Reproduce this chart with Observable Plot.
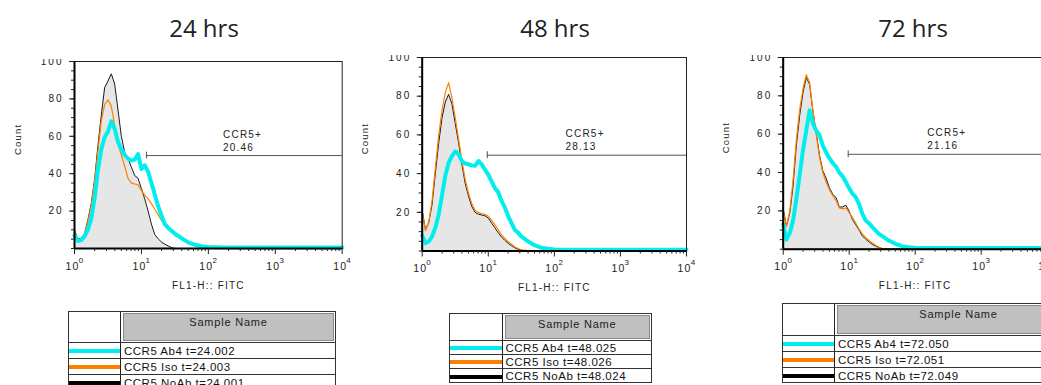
<!DOCTYPE html>
<html><head><meta charset="utf-8">
<script src="https://cdn.jsdelivr.net/npm/d3@7"></script>
<script src="https://cdn.jsdelivr.net/npm/@observablehq/plot@0.6"></script>
<style>
body{margin:0;background:#fff;}
#root{position:relative;width:1041px;height:385px;overflow:hidden;font-family:"Liberation Sans",Arial,sans-serif;}
.title{position:absolute;top:11px;font-family:"Open Sans",sans-serif;font-size:24px;color:#222;transform:translateX(-50%);white-space:nowrap;line-height:34px;}
.panel{position:absolute;}
.panel svg{overflow:hidden;background:transparent;}
.panel g[aria-label="y-axis tick label"] text{letter-spacing:2px;}
.tbl{position:absolute;border:1px solid #333;box-sizing:border-box;background:#fff;}
.tbl div{position:absolute;box-sizing:border-box;}
.hdr{background:#c0c0c0;border:1px solid #8a8a8a;text-align:center;font-size:11px;letter-spacing:0.8px;color:#222;line-height:17px;}
.rowtxt{font-size:11.5px;letter-spacing:0.5px;color:#111;white-space:nowrap;}
</style></head>
<body><div id="root"></div>
<script>
// ---- data ----
const titles = ["24 hrs", "48 hrs", "72 hrs"];
const fitc = [1, 1.12, 1.26, 1.41, 1.58, 1.78, 2, 2.24, 2.51, 2.82, 3.16, 3.55, 3.98, 4.47, 5.01, 5.62, 6.31, 7.08, 7.94, 8.91, 10, 11.2, 12.6, 14.1, 15.8, 17.8, 20, 22.4, 25.1, 28.2, 31.6, 39.8, 50.1, 63.1, 79.4, 100, 178, 316, 1000, 3160, 10000];
const noAb24 = [10, 5, 5.5, 7.8, 15, 24, 37, 55, 71, 86, 89.5, 93.4, 88, 74, 60, 51.5, 48, 43.5, 39, 37.6, 32, 26.5, 20, 13, 7.5, 5.2, 3.4, 2.3, 1.4, 0.5, 0, 0, 0, 0, 0, 0, 0, 0, 0, 0, 0];
const iso24 = [9, 4.5, 5, 7.5, 14, 23, 36, 52, 68, 77, 79.5, 76, 66, 56, 50, 44, 37.5, 35, 34.5, 34, 31, 28.5, 26.5, 24, 21, 18, 15, 12.5, 10.5, 8.5, 7, 5, 3, 1.8, 1, 0.5, 0.3, 0.3, 0.3, 0.3, 0.3];
const ab4_24 = [7, 4, 4.5, 6.5, 10, 16, 27, 42, 53, 59.5, 62.5, 68, 64, 57, 53, 50, 48, 47, 47.5, 50.5, 42.5, 44.5, 41, 35, 29, 22.5, 17.5, 13, 11, 9.5, 8, 5.5, 3.3, 2, 1.2, 0.8, 0.6, 0.6, 0.6, 0.6, 0.6];
const noAb48 = [21, 11, 15, 24, 40, 56, 69, 77, 81, 76, 66, 56, 45, 35, 28.5, 23, 20, 19, 18.6, 18.2, 17, 14.5, 12, 9.5, 7.3, 5.5, 4, 2.8, 1.7, 0.9, 0.4, 0, 0, 0, 0, 0, 0, 0, 0, 0, 0];
const iso48 = [20, 10.5, 15, 26, 43, 60, 73, 82, 87, 79, 69, 58, 47, 37, 30, 24.5, 21, 19.8, 19.3, 19, 18, 16, 13.5, 11, 8.5, 6.5, 4.8, 3.5, 2.2, 1.3, 0.6, 0.2, 0, 0, 0, 0, 0, 0, 0, 0, 0];
const ab4_48 = [8, 4, 5, 7.5, 12, 19, 29, 39, 45.5, 49, 51.5, 50, 46.5, 45.2, 44.8, 44.2, 44, 46.5, 44.8, 42, 39.5, 36, 32.5, 30.5, 26, 22.5, 18, 14.5, 11, 9.5, 7.5, 5, 3, 1.7, 1.2, 0.8, 0.6, 0.6, 0.6, 0.6, 0.6];
const noAb72 = [21, 12, 19, 33, 54, 70, 82, 89.5, 86, 72, 61, 49, 41, 37, 32, 28.7, 27, 22, 22, 23, 19.8, 15.5, 12.7, 10, 7, 5.2, 3.8, 2.5, 1.6, 0.8, 0.3, 0, 0, 0, 0, 0, 0, 0, 0, 0, 0];
const iso72 = [20, 12, 20, 36, 57, 73, 84, 91, 87, 72, 60, 48, 40, 35, 31, 28, 25.5, 21.5, 21, 21.5, 19, 16.5, 13.5, 10.5, 8, 6, 4.5, 3.2, 2, 1.1, 0.5, 0.2, 0, 0, 0, 0, 0, 0, 0, 0, 0];
const ab4_72 = [13, 5, 8.5, 15, 26, 39, 52, 62, 72.5, 65.5, 62, 59.5, 54, 50.5, 47.5, 45, 43, 40, 38, 35, 31.7, 29, 27, 23.5, 18.5, 15, 13.5, 11.5, 9.8, 8, 6.8, 4.5, 2.8, 1.6, 1, 0.7, 0.6, 0.6, 0.6, 0.6, 0.6];
const gateName = "CCR5+";
const gatePercent = ["20.46", "28.13", "21.16"];
const gateStart = [11.9, 9.66, 9.66];
const gateLevel = [49.7, 49.5, 49.5];
const decades = [1, 10, 100, 1000, 10000];
const decadeExp = ["0", "1", "2", "3", "4"];
const yMajor = [20, 40, 60, 80, 100];
const xLabel = "FL1-H:: FITC";
const yLabel = "Count";
const sampleHeader = "Sample Name";
const samples24 = ["CCR5 Ab4 t=24.002", "CCR5 Iso t=24.003", "CCR5 NoAb t=24.001"];
const samples48 = ["CCR5 Ab4 t=48.025", "CCR5 Iso t=48.026", "CCR5 NoAb t=48.024"];
const samples72 = ["CCR5 Ab4 t=72.050", "CCR5 Iso t=72.051", "CCR5 NoAb t=72.049"];
const sampleColors = ["#00eeee", "#ff8000", "#000000"];

// ---- layout ----
const panels = [
  {noab: noAb24, iso: iso24, ab4: ab4_24, samples: samples24, left: 0, top: 59, width: 358, height: 241, ml: 74, mr: 16.3, mb: 52, titleX: 204, labelX: 166,
   tbl: {left: 68, top: 311, width: 268, sw: 51, hh: 31, rh: 16}},
  {noab: noAb48, iso: iso48, ab4: ab4_48, samples: samples48, left: 360, top: 54.5, width: 340, height: 245.5, ml: 61.7, mr: 14, mb: 50, titleX: 555, labelX: 148,
   tbl: {left: 449, top: 312.5, width: 203, sw: 51.5, hh: 27.5, rh: 14.2}},
  {noab: noAb72, iso: iso72, ab4: ab4_72, samples: samples72, left: 710, top: 55.3, width: 345, height: 244.7, ml: 72.7, mr: 8.3, mb: 51, titleX: 913, labelX: 152,
   tbl: {left: 782, top: 302.5, width: 300, sw: 51, hh: 32, rh: 16.3}}
];

const root = document.getElementById("root");
const yMinor = d3.range(0, 101, 5);
const xMinor = [];
for (const d of decades.slice(0, 4)) for (let k = 2; k <= 9; k++) xMinor.push(d * k);

panels.forEach((p, pi) => {
  const t = document.createElement("div");
  t.className = "title";
  t.style.left = p.titleX + "px";
  t.textContent = titles[pi];
  root.appendChild(t);

  const data = fitc.map((x, i) => ({x, noab: p.noab[i], iso: p.iso[i], ab4: p.ab4[i]}));
  const gs = gateStart[pi], gl = gateLevel[pi];
  const chart = Plot.plot({
    width: p.width, height: p.height,
    marginLeft: p.ml, marginRight: p.mr, marginTop: 2, marginBottom: p.mb,
    x: {type: "log", domain: [1, 10000]},
    y: {domain: [0, 100]},
    style: {fontFamily: '"Liberation Sans", Arial, sans-serif', fontSize: "10px", color: "#222", background: "transparent"},
    marks: [
      Plot.areaY(data, {x: "x", y: "noab", fill: "#e6e6e6"}),
      Plot.lineY(data, {x: "x", y: "noab", stroke: "#1a1a1a", strokeWidth: 1}),
      Plot.lineY(data, {x: "x", y: "iso", stroke: "#ff8000", strokeWidth: 1.2}),
      Plot.lineY(data, {x: "x", y: "ab4", stroke: "#00eeee", strokeWidth: 4}),
      Plot.frame({stroke: "#222"}),
      Plot.ruleX([1], {stroke: "#000", strokeWidth: 2}),
      Plot.ruleY([0], {stroke: "#000", strokeWidth: 2}),
      Plot.axisY({ticks: yMajor, tickSize: 5, tickPadding: 6, label: null, fontSize: 10}),
      Plot.axisY({ticks: yMinor, tickSize: 3, tickFormat: () => "", label: null}),
      Plot.axisX({ticks: decades, tickSize: 6, tickFormat: () => "", label: null}),
      Plot.axisX({ticks: xMinor, tickSize: 3, tickFormat: () => "", label: null}),
      Plot.text(decades, {x: d => d, frameAnchor: "bottom", dy: 21, dx: -2, text: () => "10", fontSize: 10.5}),
      Plot.text(decades, {x: d => d, frameAnchor: "bottom", dy: 14, dx: 7, text: (d, i) => decadeExp[i], fontSize: 8}),
      Plot.text([xLabel], {x: () => 100, frameAnchor: "bottom", dy: 40, text: d => d, fontSize: 10}),
      Plot.text([yLabel], {y: () => 50, frameAnchor: "left", dx: -57, rotate: -90, text: d => d, fontSize: 9.5}),
      Plot.ruleY([gl], {y: d => d, x1: () => gs, x2: () => 10000, stroke: "#555", strokeWidth: 1}),
      Plot.ruleX([gs], {x: d => d, y1: () => gl - 1.8, y2: () => gl + 1.8, stroke: "#555", strokeWidth: 1}),
      Plot.text([gateName + "\n" + gatePercent[pi]], {x: () => p.labelX, y: () => 57.8, text: d => d, textAnchor: "start", lineHeight: 1.35, fontSize: 10, fill: "#222"})
    ]
  });
  chart.querySelectorAll('text').forEach(el => {
    const g = el.closest('g');
    if (g && g.getAttribute('aria-label') === 'text') el.style.letterSpacing = "1.2px";
  });
  const holder = document.createElement("div");
  holder.className = "panel";
  holder.style.left = p.left + "px";
  holder.style.top = p.top + "px";
  holder.style.width = p.width + "px";
  holder.appendChild(chart);
  root.appendChild(holder);

  // legend table
  const c = p.tbl;
  const tb = document.createElement("div");
  tb.className = "tbl";
  Object.assign(tb.style, {left: c.left + "px", top: c.top + "px", width: c.width + "px", height: (c.hh + 3 * c.rh) + "px"});
  const add = (cls, st, txt) => {
    const d = document.createElement("div");
    if (cls) d.className = cls;
    Object.assign(d.style, st);
    if (txt) d.textContent = txt;
    tb.appendChild(d);
    return d;
  };
  add("", {left: c.sw + "px", top: "0px", width: "1px", height: "100%", background: "#222"});
  add("hdr", {left: (c.sw + 3) + "px", top: "1px", width: (c.width - c.sw - 6) + "px", height: (c.hh - 3) + "px"}, sampleHeader);
  for (let r = 0; r < 3; r++) {
    const y0 = c.hh + r * c.rh;
    add("", {left: "0px", top: (y0 - 1) + "px", width: "100%", height: "1px", background: "#333"});
    add("", {left: "0px", top: (y0 + c.rh / 2 - 2) + "px", width: c.sw + "px", height: "4px", background: sampleColors[r]});
    add("rowtxt", {left: (c.sw + 4) + "px", top: y0 + "px", height: c.rh + "px", lineHeight: c.rh + "px"}, p.samples[r]);
  }
  root.appendChild(tb);
});
</script>
</body></html>
